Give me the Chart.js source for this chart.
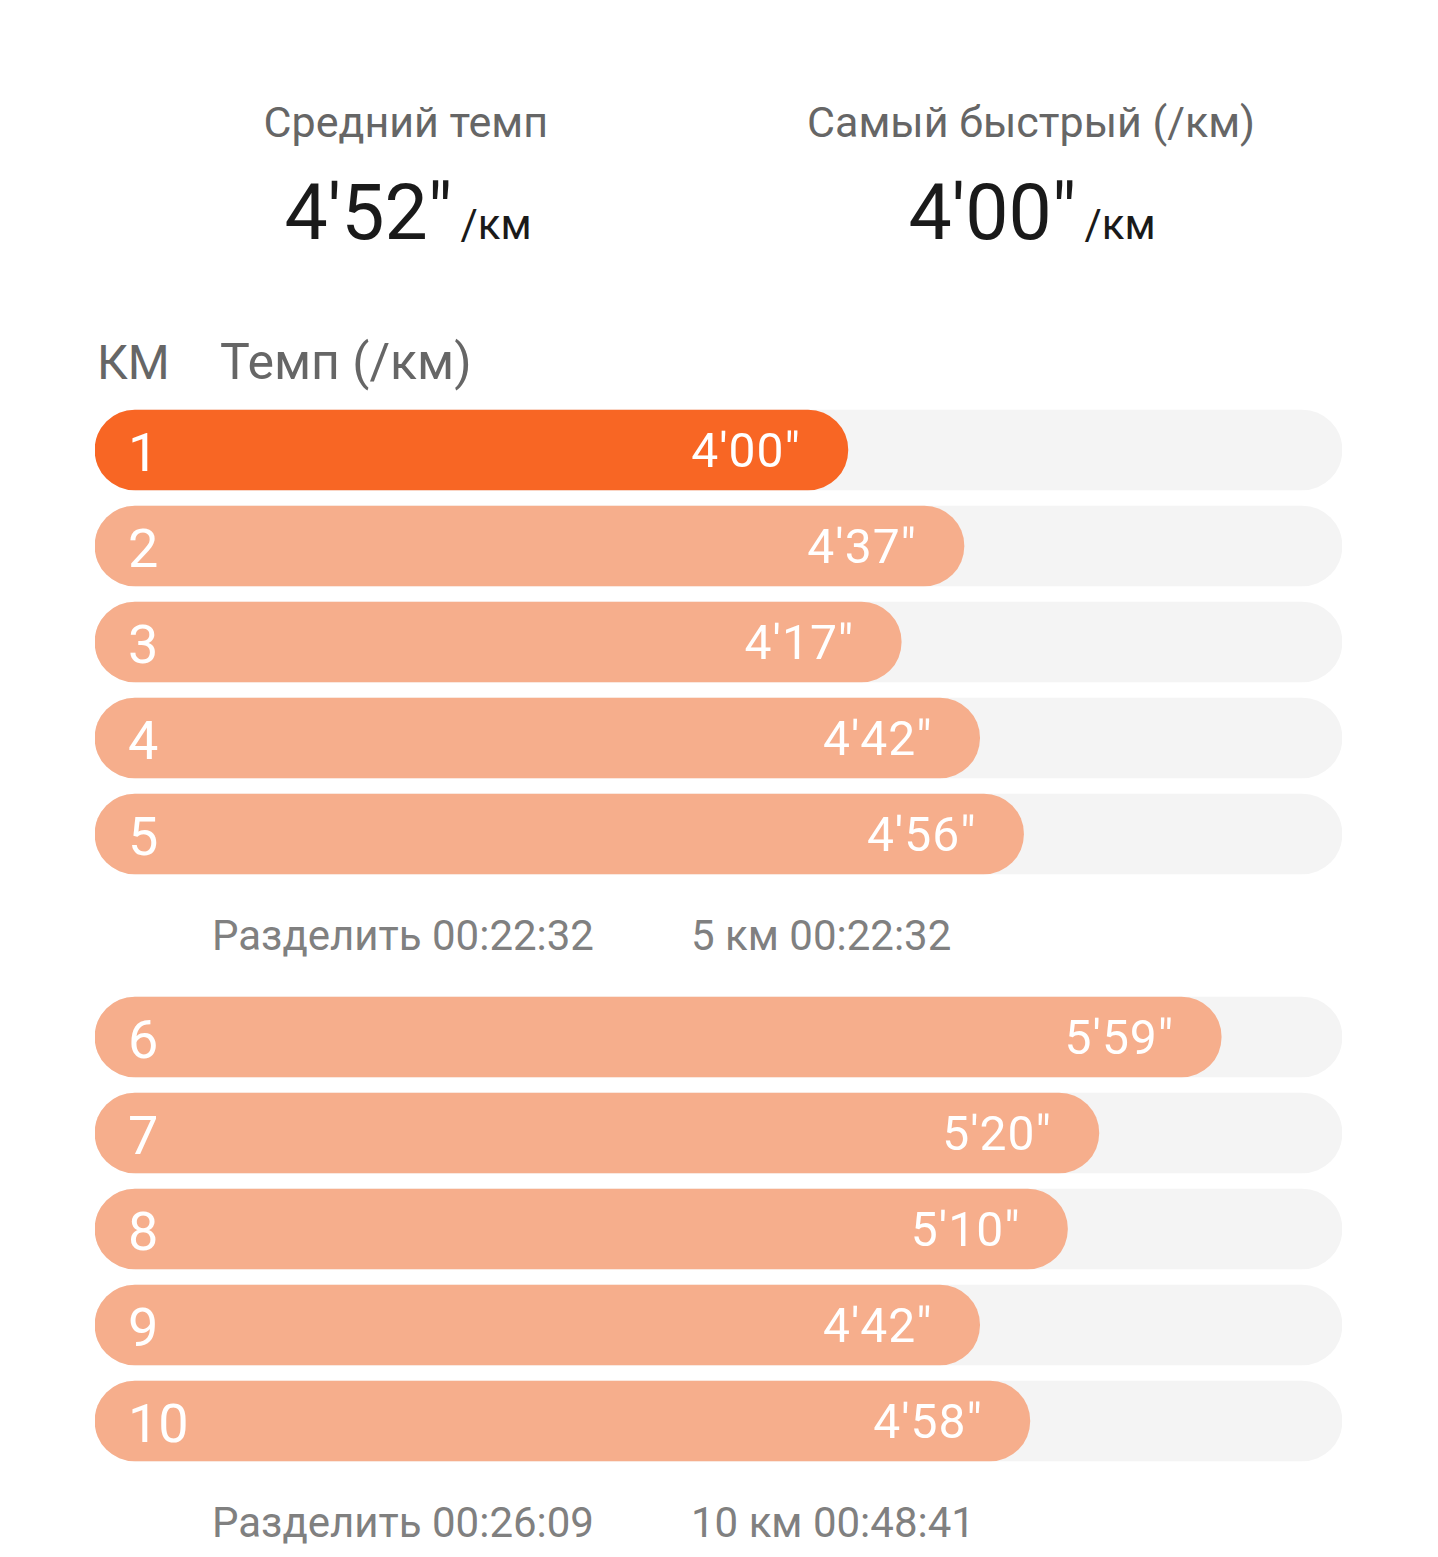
<!DOCTYPE html>
<html><head><meta charset="utf-8">
<script src="https://cdn.jsdelivr.net/npm/chart.js@4"></script>
<style>
html,body{margin:0;padding:0;background:#fff;}
body{width:1438px;height:1557px;position:relative;overflow:hidden;font-family:Roboto,"Noto Sans",sans-serif;}
.t{position:absolute;white-space:nowrap;line-height:1;}
.c{position:absolute;left:0;width:1438px;height:480px;}
</style></head><body>
<div class="t" id="h1" style="font-size:43px;color:#666;"></div>
<div class="t" id="h2" style="font-size:43px;color:#666;"></div>
<div class="t" id="b1" style="color:#1a1a1a;"></div>
<div class="t" id="b2" style="color:#1a1a1a;"></div>
<div class="t" id="colKm" style="font-size:48px;color:#666;left:97px;top:339px;"></div>
<div class="t" id="colPace" style="font-size:50px;color:#666;left:220px;top:337px;"></div>
<div class="t" id="f1a" style="font-size:42px;color:#808080;left:212px;top:915px;"></div>
<div class="t" id="f1b" style="font-size:42px;color:#808080;left:691px;top:915px;"></div>
<div class="t" id="f2a" style="font-size:42px;color:#808080;left:212px;top:1502px;"></div>
<div class="t" id="f2b" style="font-size:42px;color:#808080;left:691px;top:1502px;"></div>
<div class="c" style="top:402px;"><canvas id="c1"></canvas></div>
<div class="c" style="top:989px;"><canvas id="c2"></canvas></div>
<script>
// ---- data ----
const kmGroup1 = ["1","2","3","4","5"];
const kmGroup2 = ["6","7","8","9","10"];
const paceGroup1 = [240, 277, 257, 282, 296];   // seconds per km
const paceGroup2 = [359, 320, 310, 282, 298];
const paceLabels1 = ["4'00\"","4'37\"","4'17\"","4'42\"","4'56\""];
const paceLabels2 = ["5'59\"","5'20\"","5'10\"","4'42\"","4'58\""];
const fastestPace = 240;
const axisMax = 397.5;
const headerTitles = ["Средний темп", "Самый быстрый (/км)"];
const headerValues = ["4'52\"", "4'00\""];
const unitLabel = "/км";
const columnTitles = ["КМ", "Темп (/км)"];
const splitTexts1 = ["Разделить 00:22:32", "5 км 00:22:32"];
const splitTexts2 = ["Разделить 00:26:09", "10 км 00:48:41"];

// ---- text ----
function place(id, text, cx, top){
  const el=document.getElementById(id); el.textContent=text;
  if(cx!==null){ el.style.top=top+'px'; el.style.left=(cx - el.offsetWidth/2)+'px'; }
}
place('h1', headerTitles[0], 406, 101);
place('h2', headerTitles[1], 1031, 101);
function big(id, val, cx){
  const el=document.getElementById(id);
  el.innerHTML='<span style="font-size:77px">'+val+'</span><span style="font-size:42px;margin-left:8px">'+unitLabel+'</span>';
  el.style.top='175px'; el.style.left=(cx - el.offsetWidth/2)+'px';
}
big('b1', headerValues[0], 408);
big('b2', headerValues[1], 1032);
document.getElementById('colKm').textContent=columnTitles[0];
document.getElementById('colPace').textContent=columnTitles[1];
document.getElementById('f1a').textContent=splitTexts1[0];
document.getElementById('f1b').textContent=splitTexts1[1];
document.getElementById('f2a').textContent=splitTexts2[0];
document.getElementById('f2b').textContent=splitTexts2[1];

// ---- charts ----
const labelPlugin = {
  id:'barLabels',
  afterDatasetsDraw(chart){
    const ctx=chart.ctx;
    const meta=chart.getDatasetMeta(1);
    const txt=chart.options.plugins.barLabels.texts;
    ctx.save();
    ctx.fillStyle='#fff';
    meta.data.forEach((bar,i)=>{
      ctx.letterSpacing='0px';
      ctx.font='54px Roboto';
      ctx.textAlign='left'; ctx.textBaseline='alphabetic';
      ctx.fillText(chart.data.labels[i], 128, bar.y+21);
      ctx.font='48px Roboto';
      ctx.letterSpacing='1px';
      ctx.textAlign='right';
      ctx.fillText(txt[i], bar.x-47, bar.y+17);
    });
    ctx.restore();
  }
};
function makeChart(id, labels, values, texts){
  new Chart(document.getElementById(id), {
    type:'bar',
    data:{labels:labels, datasets:[
      {data:labels.map(()=>axisMax), backgroundColor:'#F4F4F4', order:2, grouped:false,
       borderRadius:40, borderSkipped:false, barThickness:80},
      {data:values, backgroundColor:values.map(v=>v===fastestPace?'#F86624':'#F6AE8C'), order:1, grouped:false,
       borderRadius:40, borderSkipped:false, barThickness:80}
    ]},
    options:{
      indexAxis:'y', responsive:true, maintainAspectRatio:false, animation:false,
      layout:{padding:{left:95,right:96,top:0,bottom:0}},
      scales:{
        x:{display:false,min:0,max:axisMax},
        y:{display:false}
      },
      plugins:{legend:{display:false},tooltip:{enabled:false},barLabels:{texts:texts}}
    },
    plugins:[labelPlugin]
  });
}
makeChart('c1', kmGroup1, paceGroup1, paceLabels1);
makeChart('c2', kmGroup2, paceGroup2, paceLabels2);
</script>
</body></html>
